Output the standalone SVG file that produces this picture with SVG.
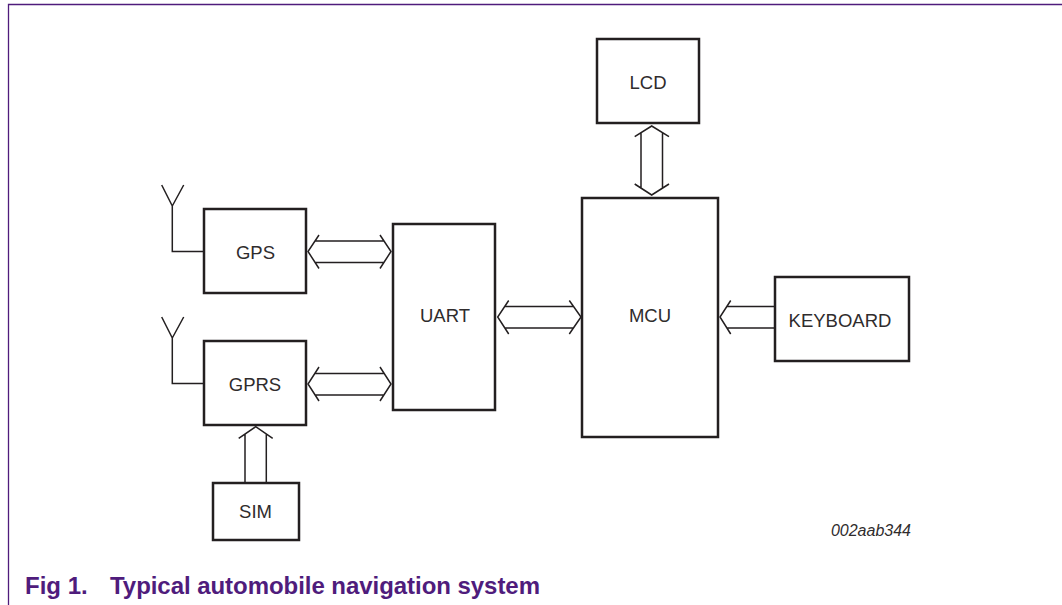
<svg xmlns="http://www.w3.org/2000/svg" width="1062" height="605" viewBox="0 0 1062 605">
<style>
.b{fill:#fff;stroke:#231f20;stroke-width:2.5}
.l{fill:none;stroke:#231f20;stroke-width:1.500}
.t{font-family:"Liberation Sans",Arial,sans-serif;font-size:18.500px;fill:#2f2c2d;text-anchor:middle}
.c{font-family:"Liberation Sans",Arial,sans-serif;font-size:24px;font-weight:700;fill:#4f1c7c}
</style>
<rect width="1062" height="605" fill="#fff"/>
<path d="M8.500 605V4.500H1062" fill="none" stroke="#4f1c7c" stroke-width="1.300"/>
<g id="connectors" class="l">
<path d="M172.300 206V251.500H204M161.700 185L172.300 206L183.700 185"/>
<path d="M172.300 338V383.500H204M161.700 317L172.300 338L183.700 317"/>
<path d="M315 241H384M315 262.500H384M319 235L308 251.500L319 268.500M380 235L391 251.500L380 268.500"/>
<path d="M315 373.500H384M315 395H384M319 367L308 384L319 401M380 367L391 384L380 401"/>
<path d="M505 306.500H574M505 328H574M508.700 300.500L497.700 317L508.700 334M569.300 300.500L581 317L569.300 334"/>
<path d="M641 133V188M662.500 133V188M634.700 136.700L651.700 126L669 136.700M634.700 184L651.700 195L669 184"/>
<path d="M775 306.500H727M775 328H727M730.700 300.500L720 317L730.700 334"/>
<path d="M245 482V434M266.300 482V434M238.700 438.300L255.700 426.700L272.700 438.300"/>
</g>
<g id="lcd"><rect class="b" x="597" y="39" width="102" height="84"/><text class="t" x="648" y="88.500">LCD</text></g>
<g id="gps"><rect class="b" x="204" y="209" width="102" height="84"/><text class="t" x="255.500" y="258.500">GPS</text></g>
<g id="gprs"><rect class="b" x="204" y="341" width="102" height="84"/><text class="t" x="255" y="390.500">GPRS</text></g>
<g id="uart"><rect class="b" x="393" y="224" width="102" height="186"/><text class="t" x="445" y="321.500">UART</text></g>
<g id="mcu"><rect class="b" x="582" y="198" width="136" height="239"/><text class="t" x="650" y="321.500">MCU</text></g>
<g id="keyboard"><rect class="b" x="775" y="277" width="134" height="84"/><text class="t" x="840" y="326.500">KEYBOARD</text></g>
<g id="sim"><rect class="b" x="213" y="483" width="86" height="57"/><text class="t" x="255.500" y="518">SIM</text></g>
<text x="911" y="536" font-family="'Liberation Sans',Arial,sans-serif" font-size="16" font-style="italic" fill="#2f2c2d" text-anchor="end">002aab344</text>
<text class="c" x="25" y="594">Fig 1.</text>
<text class="c" x="110" y="594" textLength="430">Typical automobile navigation system</text>
</svg>
